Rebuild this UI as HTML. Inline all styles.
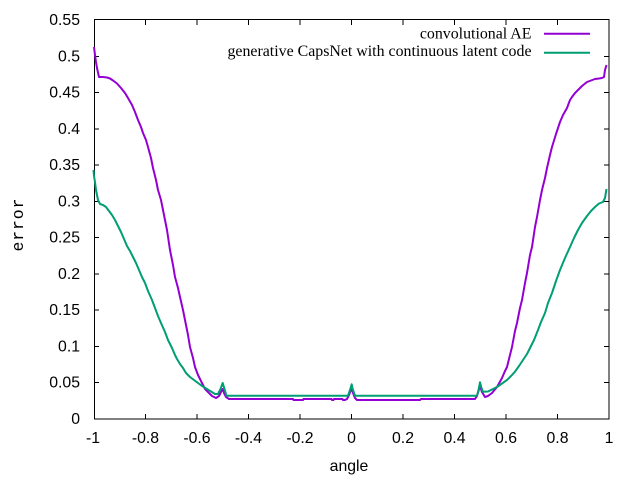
<!DOCTYPE html>
<html>
<head>
<meta charset="utf-8">
<style>
html,body{margin:0;padding:0;background:#fff;}
svg{display:block;}
.t{font-family:"Liberation Sans",sans-serif;font-size:15.8px;fill:#000;}
.l{font-family:"Liberation Serif",serif;font-size:15.9px;fill:#000;}
.m{font-family:"Liberation Mono",monospace;font-size:16.5px;fill:#000;}
</style>
</head>
<body>
<svg width="640" height="480" viewBox="0 0 640 480" xmlns="http://www.w3.org/2000/svg">
<rect x="0" y="0" width="640" height="480" fill="#fff"/>

<!-- ticks -->
<g stroke="#000" stroke-width="1" shape-rendering="crispEdges">
  <path d="M94,382.73h5M94,346.45h5M94,310.18h5M94,273.91h5M94,237.64h5M94,201.36h5M94,165.09h5M94,128.82h5M94,92.55h5M94,56.27h5"/>
  <path d="M609,382.73h-5M609,346.45h-5M609,310.18h-5M609,273.91h-5M609,237.64h-5M609,201.36h-5M609,165.09h-5M609,128.82h-5M609,92.55h-5M609,56.27h-5"/>
  <path d="M145.5,419v-5M197,419v-5M248.5,419v-5M300,419v-5M351.5,419v-5M403,419v-5M454.5,419v-5M506,419v-5M557.5,419v-5"/>
  <path d="M145.5,20v5M197,20v5M248.5,20v5M300,20v5M351.5,20v5M403,20v5M454.5,20v5M506,20v5M557.5,20v5"/>
  <rect x="94.5" y="19.5" width="514.5" height="399.5" fill="none"/>
</g>

<!-- y tick labels -->
<g class="t" text-anchor="end">
  <text x="80" y="424">0</text>
  <text x="80" y="387.7">0.05</text>
  <text x="80" y="351.5">0.1</text>
  <text x="80" y="315.2">0.15</text>
  <text x="80" y="278.9">0.2</text>
  <text x="80" y="242.6">0.25</text>
  <text x="80" y="206.4">0.3</text>
  <text x="80" y="170.1">0.35</text>
  <text x="80" y="133.8">0.4</text>
  <text x="80" y="97.5">0.45</text>
  <text x="80" y="61.3">0.5</text>
  <text x="80" y="25">0.55</text>
</g>

<!-- x tick labels -->
<g class="t" text-anchor="middle">
  <text x="93" y="443">-1</text>
  <text x="145.5" y="443">-0.8</text>
  <text x="197" y="443">-0.6</text>
  <text x="248.5" y="443">-0.4</text>
  <text x="300" y="443">-0.2</text>
  <text x="351.5" y="443">0</text>
  <text x="403" y="443">0.2</text>
  <text x="454.5" y="443">0.4</text>
  <text x="506" y="443">0.6</text>
  <text x="557.5" y="443">0.8</text>
  <text x="609" y="443">1</text>
</g>

<!-- axis labels -->
<text class="t" x="349" y="471" text-anchor="middle">angle</text>
<text class="m" transform="translate(23,225) rotate(-90)" text-anchor="middle" textLength="53" lengthAdjust="spacing">error</text>

<!-- legend -->
<text class="l" x="531.5" y="38.5" text-anchor="end">convolutional AE</text>
<text class="l" x="531.5" y="56" text-anchor="end">generative CapsNet with continuous latent code</text>
<line x1="544" y1="33.7" x2="590" y2="33.7" stroke="#9400D3" stroke-width="2"/>
<line x1="544" y1="52.7" x2="590" y2="52.7" stroke="#009E73" stroke-width="2"/>

<!-- purple: convolutional AE -->
<polyline fill="none" stroke="#9400D3" stroke-width="2" stroke-linejoin="round" points="
94,47 95,55 96,62 97,68 99,77 103,77 107,77.5 110,78.5 113,80.5 117,83.5 121,88 125,93 128,98 132,105 135,112 138,120 141,127 143,133 146,140 148,147 151,158 153,168 156,180 158,190 161,200 163,210 167,230 170,250 173,265 175,277 178,288 180,297 183,310 185,320 188,335 190,347 193,358 195,367 198,375 202,383 205,389 208,392 212,396 216,398 219,396 221,392 222.7,389 224,393 226,397 229,399
293,399 293.5,400 303,400 303.5,399 331.5,399 332,400 333.5,400 334,399 342.5,399 343,400 345,400 347,399 349,395 351.7,388 353,393 355,398 357,400 420,400 421,399 475,399 477,396 480,386 482,392 485,397 488,396 492,393 497,387 502,378 505,371 507,367 510,355 512,347 515,331 517,323 520,308 522,300 525,283 527,273 530,255 532,247 535,227 537,217 540,200 542,190 545,178 547,168 550,155 552,147 556,134 560,122 563,115 567,108 570,100 572,97 575,93 578,90 582,86 587,82 591,80.5 595,79 599,78.5 602,78 604,77 605,70 606.5,65"/>

<!-- green: generative CapsNet -->
<polyline fill="none" stroke="#009E73" stroke-width="2" stroke-linejoin="round" points="
93.5,170 94,176 95,182 96,190 98,200 100,204 103,205 106,207 109,211 112,215 115,220 118,226 121,232 124,239 127,246 130,251 133,257 136,263 139,270 142,277 145,283 148,291 152,300 155,308 158,316 161,323 165,332 168,340 172,348 175,355 177,359 180,364 183,368 186,373 190,377 194,380 198,383 202,386 207,389 211,391.5 215,394 218,394 220.5,389 222.7,383 224.5,389 226.5,395.7
348,395.7 350,390 351.7,384.3 353,390 355,395.7 477,395.7 478.5,390 480,382.3 481.5,388 483,391.7 488,391.5 492,389.5 497,387 502,383.5 507,380 511,376 515,371.7 519,366 523,360 527,354 530,348 534,340 538,330 541,322 545,313 548,303 552,293 556,281 560,270 565,258 570,247 574,238 578,230 582,223 587,216 591,211 595,207 599,203.5 603,202 605,198 606.5,189"/>
</svg>
</body>
</html>
